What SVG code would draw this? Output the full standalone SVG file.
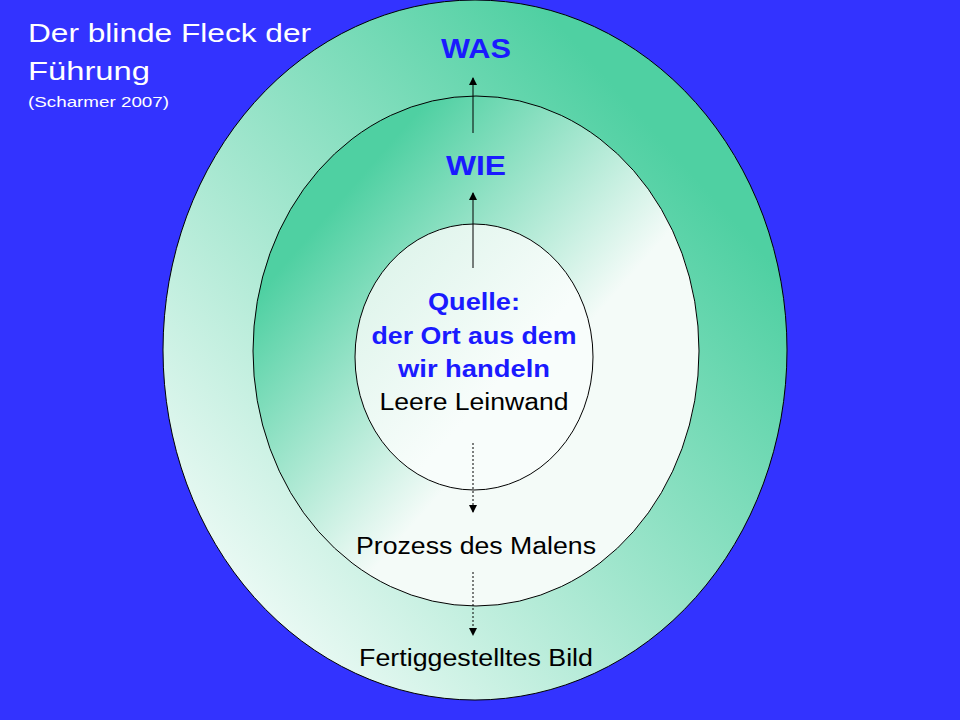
<svg xmlns="http://www.w3.org/2000/svg" width="960" height="720" viewBox="0 0 960 720">
<style>
text{font-family:"Liberation Sans",Arial,sans-serif;text-anchor:middle}
.b{fill:#1a1aff;font-weight:bold}
.k{fill:#000}
.e{stroke:#000;stroke-width:1}
.c{stroke:#000;stroke-width:1;fill:none}
</style>
<defs>
<linearGradient id="go" x1="0" y1="1" x2="1" y2="0"><stop offset="0.05" stop-color="#ffffff"/><stop offset="0.8" stop-color="#4fd0a2"/></linearGradient>
<linearGradient id="gm" x1="0" y1="0" x2="1" y2="1"><stop offset="0.2" stop-color="#4fd0a2"/><stop offset="0.6" stop-color="#f4fbf8"/><stop offset="1" stop-color="#f4fbf8"/></linearGradient>
<linearGradient id="gi" x1="0" y1="0" x2="1" y2="1"><stop offset="0" stop-color="#d8f2e7"/><stop offset="0.6" stop-color="#f8fdfb"/></linearGradient>
<marker id="a" markerWidth="8" markerHeight="8" refX="7" refY="4" orient="auto" markerUnits="userSpaceOnUse"><path d="M0,0 L8,4 L0,8z" fill="#000"/></marker>
</defs>
<rect width="960" height="720" fill="#3333ff"/>
<g id="outer"><ellipse class="e" cx="475" cy="350" rx="312" ry="350" fill="url(#go)"/></g>
<g id="middle"><ellipse class="e" cx="476" cy="351" rx="223" ry="255" fill="url(#gm)"/></g>
<g id="inner"><ellipse class="e" cx="474" cy="357" rx="119" ry="133" fill="url(#gi)"/></g>
<g id="connectors">
<line class="c" x1="473" y1="133" x2="473" y2="78" marker-end="url(#a)"/>
<line class="c" x1="473" y1="268" x2="473" y2="193" marker-end="url(#a)"/>
<line class="c" x1="473" y1="443" x2="473" y2="512" stroke-dasharray="2,2" marker-end="url(#a)"/>
<line class="c" x1="473" y1="572" x2="473" y2="635" stroke-dasharray="2,2" marker-end="url(#a)"/>
</g>
<g id="title">
<text x="28" y="42" style="text-anchor:start;font-size:26px" fill="#fff" textLength="283" lengthAdjust="spacingAndGlyphs">Der blinde Fleck der</text>
<text x="28" y="80" style="text-anchor:start;font-size:26px" fill="#fff" textLength="122" lengthAdjust="spacingAndGlyphs">Führung</text>
<text x="28" y="107" style="text-anchor:start;font-size:15px" fill="#fff" textLength="141" lengthAdjust="spacingAndGlyphs">(Scharmer 2007)</text>
</g>
<g id="labels">
<text class="b" x="476" y="58" font-size="28" textLength="70" lengthAdjust="spacingAndGlyphs">WAS</text>
<text class="b" x="476" y="175" font-size="28" textLength="60" lengthAdjust="spacingAndGlyphs">WIE</text>
<text class="b" x="474" y="310" font-size="23" textLength="92" lengthAdjust="spacingAndGlyphs">Quelle:</text>
<text class="b" x="474" y="344" font-size="23" textLength="205" lengthAdjust="spacingAndGlyphs">der Ort aus dem</text>
<text class="b" x="474" y="377" font-size="23" textLength="152" lengthAdjust="spacingAndGlyphs">wir handeln</text>
<text class="k" x="474" y="410" font-size="23" textLength="189" lengthAdjust="spacingAndGlyphs">Leere Leinwand</text>
<text class="k" x="476" y="554" font-size="23" textLength="240" lengthAdjust="spacingAndGlyphs">Prozess des Malens</text>
<text class="k" x="476" y="666" font-size="23" textLength="234" lengthAdjust="spacingAndGlyphs">Fertiggestelltes Bild</text>
</g>
</svg>
